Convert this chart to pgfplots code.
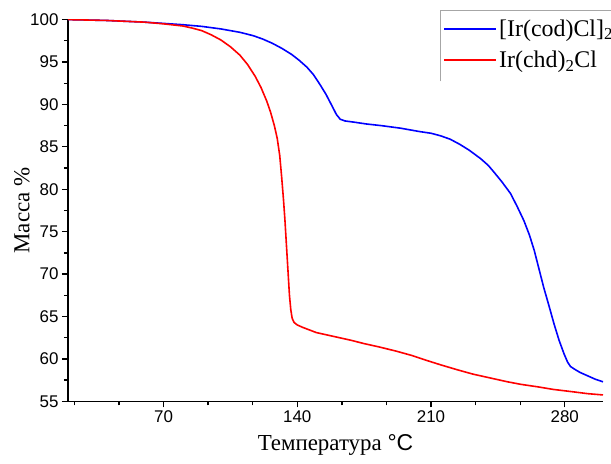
\documentclass[border=0pt]{standalone}
\usepackage{pgfplots}
\pgfplotsset{compat=1.18}
\usepackage{fontspec}
\setmainfont{Liberation Serif}
\setsansfont{Liberation Sans}
\newfontfamily\ticksfont{Liberation Sans}
\begin{document}
\begin{tikzpicture}
\path[use as bounding box] (-68bp,-62bp) rectangle (543bp,401.3bp);
\begin{axis}[
  scale only axis,
  width=535bp, height=381.7bp,
  xmin=20, xmax=300, ymin=55, ymax=100,
  axis x line=bottom, axis y line=left,
  axis line style={-, line width=1.3bp, black},
  xtick={0,70,...,350}, ytick={55,60,...,100},
  minor x tick num=2, minor y tick num=1,
  tick align=outside,
  major tick length=6bp, minor tick length=4bp,
  every tick/.style={black, line width=1.3bp},
  tick label style={font=\fontsize{17}{20}\ticksfont},
  /pgf/number format/assume math mode=true,
  xlabel={Температура \textsf{°C}},
  ylabel={Масса \%},
  label style={font=\fontsize{23}{27}\selectfont},
  xlabel style={at={(axis description cs:0.5,0)}, anchor=center, yshift=-44bp},
  ylabel style={at={(axis description cs:-0.086,0.5)}, anchor=center},
  legend style={at={(0.6953,1.0165)}, anchor=north west, draw=none, fill=none,
    font=\fontsize{24}{28}\selectfont, row sep=9.5bp, inner xsep=3bp, inner ysep=4bp},
  legend cell align=left,
  legend image code/.code={\draw[#1, line width=2bp] (0bp,0bp) -- (52bp,0bp);},
]
\addplot[color=blue, line width=1.6bp] coordinates {
(20,100) (40,99.9) (60,99.7) (70,99.55) (80,99.4) (90,99.2) (100,98.9) (110,98.5)
(117,98.1) (122,97.7) (127,97.2) (132,96.6) (137,95.9) (141,95.2) (145,94.4)
(148.5,93.5) (152,92.3) (155,91.2) (158,89.9) (160.5,88.8) (162.5,88.25) (165,88.05)
(170,87.9) (176,87.7) (184,87.5) (194,87.2) (204,86.8) (210,86.6) (215,86.3) (220,85.9)
(225,85.3) (230,84.6) (236,83.6) (240,82.8) (243,82.0) (247,80.9) (251.6,79.5)
(255,78.0) (258.6,76.3) (261.5,74.6) (264,72.8) (266.5,70.6) (269,68.4) (271.8,66.2)
(274.4,64.1) (277,62.2) (279.6,60.6) (281.5,59.6) (283,59.1) (285,58.8) (288,58.4)
(292,58.0) (296,57.6) (300,57.3)
};
\addlegendentry{[Ir(cod)Cl]\textsubscript{2}}
\addplot[color=red, line width=1.6bp] coordinates {
(20,100) (40,99.9) (60,99.7) (70,99.5) (80,99.25) (85,99.0) (90,98.7) (95,98.2)
(100,97.6) (105,96.8) (110,95.8) (114,94.7) (118,93.3) (121,92.0) (124,90.4)
(126,89.1) (128,87.5) (129.5,86.0) (130.8,84.0) (131.8,81.5) (132.7,79.0)
(133.5,76.5) (134.3,73.5) (135.1,70.5) (135.9,67.5) (136.6,65.8) (137.3,64.8)
(138.3,64.3) (140,64.0) (143,63.7) (150,63.1) (160,62.6) (168,62.2) (175,61.8)
(183,61.4) (192,60.9) (200,60.4) (208,59.8) (215,59.3) (224,58.7) (232,58.2)
(242,57.7) (250,57.3) (257,57.0) (266,56.7) (274,56.4) (285,56.1) (292,55.9) (300,55.75)
};
\addlegendentry{Ir(chd)\textsubscript{2}Cl}
\end{axis}
\draw[gray!70, line width=0.6bp] (372bp,320bp) -- (372bp,391.3bp) -- (560bp,391.3bp);
\end{tikzpicture}
\end{document}
